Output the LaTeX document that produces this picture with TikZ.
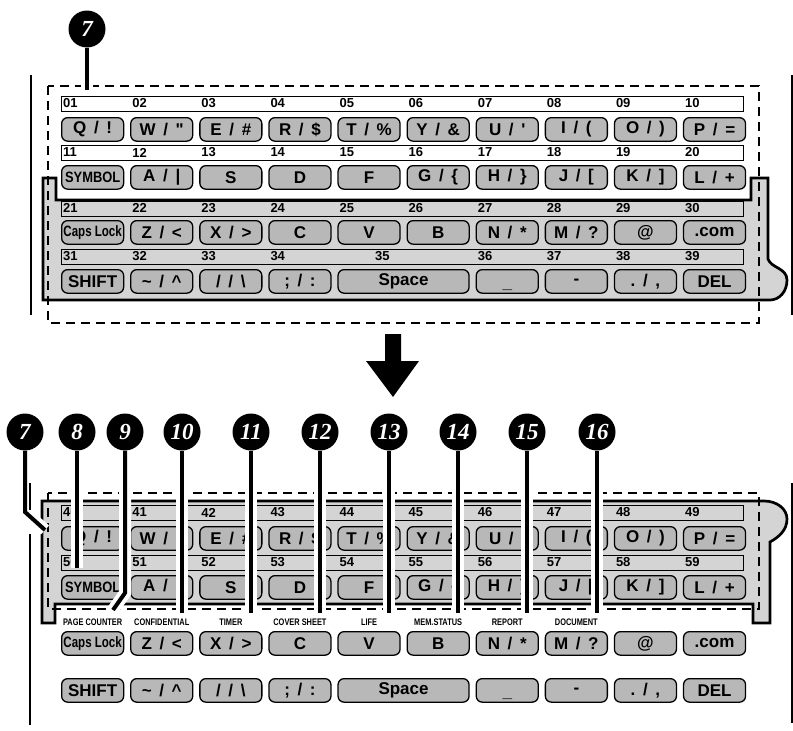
\documentclass[tikz,border=0pt]{standalone}
\usepackage{fontspec}
\usepackage{graphicx}
\setmainfont{Liberation Sans}
\newfontfamily\calloutfont{Liberation Serif}
\usetikzlibrary{positioning}

\definecolor{keygray}{RGB}{184,184,184}
\definecolor{sheetgray}{RGB}{212,212,212}

\newcommand\sep{\hspace{.45em}/\hspace{.45em}}
\newcommand\fsl{/}
\newcommand\lowbar{\raisebox{-7pt}[0pt][0pt]{\_}}
\newcommand\narrow[2][.86]{{\fontsize{15}{15}\selectfont\scalebox{#1}[1]{#2}}}
\newcommand\colx[1]{61+(#1-1)*69.1}

\begin{document}
\begin{tikzpicture}[x=1pt, y=-1pt,
	key/.style={draw, line width=1.3pt, rounded corners=6pt, fill=keygray, minimum width=62pt, minimum height=23.5pt, inner sep=0pt, anchor=north west, font=\bfseries\fontsize{17}{17}\selectfont},
	strip/.style={draw, line width=1.3pt, minimum width=682pt, minimum height=15pt, inner sep=0pt, anchor=north west},
	num/.style={anchor=west, inner sep=0pt, font=\bfseries\fontsize{13}{13}\selectfont},
	sheet/.style={draw, line width=2.7pt, fill=sheetgray, line join=miter},
	cutline/.style={draw, line width=2.2pt, dash pattern=on 9pt off 6pt},
	side/.style={draw, line width=2pt},
	fnlabel/.style={inner sep=0pt, font=\bfseries\fontsize{9.5}{9.5}\selectfont},
	callout/.style={circle, fill=black, text=white, minimum size=37pt, inner sep=0pt, font=\calloutfont\bfseries\itshape\fontsize{23}{23}\selectfont},
	leader/.style={draw=white, double=black, line width=4pt, double distance=4pt}]
	\useasboundingbox (0,0) rectangle (793,731);

	% Upper panel: sheet fitted on the keys
	\draw[side] (31,75) -- (31,315);
	\draw[side] (792,75) -- (792,315);
	\draw[sheet] (43,178) -- (56,178) -- (56,200) -- (751,200) -- (751,178) -- (768,178) -- (768,259) .. controls (771,268) and (787,268) .. (787,280) .. controls (787,292) and (779,300) .. (770,300) -- (43,300) -- cycle;
	\node[strip, fill=white] (tsA) at (61,96) {};
	\node[strip, fill=white] (tsB) at (61,145) {};
	\node[strip, fill=sheetgray] (tsC) at (61,201) {};
	\node[strip, fill=sheetgray] (tsD) at (61,249) {};
	\foreach \n [count=\i] in {01,02,03,04,05,06,07,08,09,10}
		\node[num] (tnA-\i) at ({\colx{\i}+2},103.5) {\n};
	\foreach \n [count=\i] in {11,12,13,14,15,16,17,18,19,20}
		\node[num] (tnB-\i) at ({\colx{\i}+2},152.5) {\n};
	\foreach \n [count=\i] in {21,22,23,24,25,26,27,28,29,30}
		\node[num] (tnC-\i) at ({\colx{\i}+2},208) {\n};
	\foreach \n/\c in {31/1,32/2,33/3,34/4,36/7,37/8,38/9,39/10}
		\node[num] (tnD-\c) at ({\colx{\c}+2},256.5) {\n};
	\node[num] (tnD-5) at (375,256.5) {35};
	\foreach \lbl [count=\i] in {Q\sep!, W\sep\textquotedbl, E\sep\#, R\sep\$, T\sep\%, Y\sep\&, U\sep\textquotesingle, I\sep(, O\sep), P\sep=}
		\node[key] (tA-\i) at ({\colx{\i}},117) {\lbl};
	\foreach \lbl [count=\i] in {\narrow[.86]{SYMBOL}, A\sep|, S, D, F, G\sep\{, H\sep\}, J\sep[, K\sep], L\sep+}
		\node[key] (tB-\i) at ({\colx{\i}},165) {\lbl};
	\foreach \lbl [count=\i] in {\narrow[.77]{Caps Lock}, Z\sep<, X\sep>, C, V, B, N\sep*, M\sep?, @, .com}
		\node[key] (tC-\i) at ({\colx{\i}},220) {\lbl};
	\foreach \lbl/\c in {SHIFT/1, \textasciitilde\sep\textasciicircum/2, \fsl\sep\textbackslash/3, ;\sep:/4, \lowbar/7, -/8, {.\sep,}/9, DEL/10}
		\node[key] (tD-\c) at ({\colx{\c}},269) {\lbl};
	\node[key, minimum width=131pt] (tD-5) at ({\colx{5}},269) {Space};
	\draw[cutline] (48,86) rectangle (759,323);
	\node[callout] (t7) at (87,29) {7};
	\coordinate (te7) at (87,90);
	\draw[leader] (t7.south) -- (te7);

	% Arrow
	\fill (385,334) -- (401,334) -- (401,361) -- (419,361) -- (393,397) -- (366,361) -- (385,361) -- cycle;

	% Lower panel: sheet turned over
	\draw[side] (792,483) -- (792,723);
	\draw[sheet] (42,501) -- (764,501) .. controls (777,501) and (787,509) .. (787,519) .. controls (787,530) and (779,537) .. (770,542) -- (770,623) -- (753,623) -- (753,604) -- (55,604) -- (55,623) -- (42,623) -- cycle;
	\node[strip, fill=sheetgray] (bsA) at (61,505) {};
	\node[strip, fill=sheetgray] (bsB) at (61,555) {};
	\foreach \n [count=\i] in {40,41,42,43,44,45,46,47,48,49}
		\node[num] (bnA-\i) at ({\colx{\i}+2},512.5) {\n};
	\foreach \n [count=\i] in {50,51,52,53,54,55,56,57,58,59}
		\node[num] (bnB-\i) at ({\colx{\i}+2},562.5) {\n};
	\foreach \lbl [count=\i] in {Q\sep!, W\sep\textquotedbl, E\sep\#, R\sep\$, T\sep\%, Y\sep\&, U\sep\textquotesingle, I\sep(, O\sep), P\sep=}
		\node[key] (bA-\i) at ({\colx{\i}},526) {\lbl};
	\foreach \lbl [count=\i] in {\narrow[.86]{SYMBOL}, A\sep|, S, D, F, G\sep\{, H\sep\}, J\sep[, K\sep], L\sep+}
		\node[key] (bB-\i) at ({\colx{\i}},575) {\lbl};
	\foreach \lbl [count=\i] in {\narrow[.77]{Caps Lock}, Z\sep<, X\sep>, C, V, B, N\sep*, M\sep?, @, .com}
		\node[key] (bC-\i) at ({\colx{\i}},631) {\lbl};
	\foreach \lbl/\c in {SHIFT/1, \textasciitilde\sep\textasciicircum/2, \fsl\sep\textbackslash/3, ;\sep:/4, \lowbar/7, -/8, {.\sep,}/9, DEL/10}
		\node[key] (bD-\c) at ({\colx{\c}},678) {\lbl};
	\node[key, minimum width=131pt] (bD-5) at ({\colx{5}},678) {Space};
	\foreach \f/\c in {PAGE COUNTER/1, CONFIDENTIAL/2, TIMER/3, COVER SHEET/4, LIFE/5, MEM.STATUS/6, REPORT/7, DOCUMENT/8}
		\node[fnlabel, above=5pt of bC-\c] (fn-\c) {\scalebox{.78}[1]{\f}};
	\draw[cutline] (48,493) rectangle (759,609);

	% Callouts 7 to 16
	\foreach \n/\x in {7/25, 8/77, 9/125, 10/182, 11/251, 12/320, 13/389, 14/458, 15/527, 16/597}
		\node[callout] (c\n) at (\x,432) {\n};
	\coordinate (e7) at (45,530);
	\coordinate (e8) at (77,568);
	\coordinate (e9) at (113,610);
	\draw[leader] (c7.south) -- (25,512) -- (e7);
	\draw[leader] (c8.south) -- (e8);
	\draw[leader] (c9.south) -- (125,593) -- (e9);
	\foreach \n/\x in {10/182, 11/251, 12/320, 13/389, 14/458, 15/527, 16/597} {
		\coordinate (e\n) at (\x,613);
		\draw[leader] (c\n.south) -- (e\n);
	}
	\draw[side] (30,483) -- (30,510);
	\draw[side] (30,534) -- (30,725);
\end{tikzpicture}
\end{document}
